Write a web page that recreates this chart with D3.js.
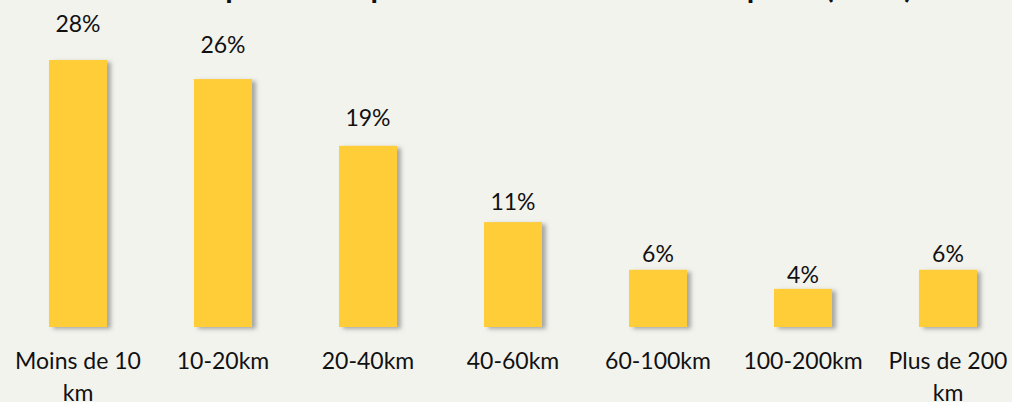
<!DOCTYPE html>
<html>
<head>
<meta charset="utf-8">
<script src="https://cdn.jsdelivr.net/npm/d3@7"></script>
<style>
  html, body { margin: 0; padding: 0; background: #F3F3EE; }
  svg { display: block; }
  text { font-family: Lato, "Open Sans", sans-serif; fill: #111; }
</style>
</head>
<body>
<svg id="chart" width="1012" height="402"></svg>
<script>
const title = "Distance parcourue pour aller au travail en transports (2019)";
const categories = ["Moins de 10 km", "10-20km", "20-40km", "40-60km", "60-100km", "100-200km", "Plus de 200 km"];
const values = [28, 26, 19, 11, 6, 4, 6];
const valueLabels = ["28%", "26%", "19%", "11%", "6%", "4%", "6%"];

const W = 1012, H = 402;
const svg = d3.select("#chart");

svg.append("rect").attr("width", W).attr("height", H).attr("fill", "#F3F3EE");

const defs = svg.append("defs");
const f = defs.append("filter").attr("id", "shadow")
  .attr("x", "-20%").attr("y", "-20%").attr("width", "150%").attr("height", "150%");
f.append("feDropShadow").attr("dx", 4).attr("dy", 2).attr("stdDeviation", 2)
  .attr("flood-color", "#6b6b6b").attr("flood-opacity", 0.55);

const baseline = 327;
const x = d3.scaleBand().domain(categories).range([5.5, 1020.5])
  .paddingInner(0.6).paddingOuter(0.3);
const y = d3.scaleLinear().domain([0, d3.max(values)]).range([baseline, 60]);

// title (cut at the top of the frame)
svg.append("text")
  .attr("x", 99).attr("y", -2)
  .attr("font-size", 30.5).attr("font-weight", "bold")
  .text(title);

const data = categories.map((c, i) => ({c, v: values[i], l: valueLabels[i]}));

svg.append("g").selectAll("rect").data(data).join("rect")
  .attr("x", d => x(d.c))
  .attr("y", d => y(d.v))
  .attr("width", x.bandwidth())
  .attr("height", d => baseline - y(d.v))
  .attr("fill", "#FFCD38")
  .attr("filter", "url(#shadow)");

svg.append("g").selectAll("text").data(data).join("text")
  .attr("x", d => x(d.c) + x.bandwidth() / 2)
  .attr("y", d => y(d.v) - (2.5 + 0.095 * (baseline - y(d.v))))
  .attr("text-anchor", "middle")
  .attr("font-size", 23)
  .text(d => d.l);

const axis = svg.append("g").attr("transform", `translate(0,${baseline})`)
  .call(d3.axisBottom(x).tickSize(0));
axis.select(".domain").remove();
axis.selectAll("text")
  .attr("font-size", 23)
  .attr("font-family", "Lato, 'Open Sans', sans-serif")
  .attr("fill", "#111")
  .call(wrap, 140);

function wrap(sel, width) {
  sel.each(function() {
    const t = d3.select(this);
    const words = t.text().split(/\s+/);
    t.text(null);
    let lines = [], line = [];
    const probe = t.append("tspan");
    words.forEach(w => {
      line.push(w);
      probe.text(line.join(" "));
      if (probe.node().getComputedTextLength() > width && line.length > 1) {
        line.pop();
        lines.push(line.join(" "));
        line = [w];
      }
    });
    lines.push(line.join(" "));
    probe.remove();
    t.attr("y", 0).attr("dy", null);
    lines.forEach((ln, i) => {
      t.append("tspan").attr("x", 0).attr("y", 42 + i * 32).text(ln);
    });
  });
}
</script>
</body>
</html>
